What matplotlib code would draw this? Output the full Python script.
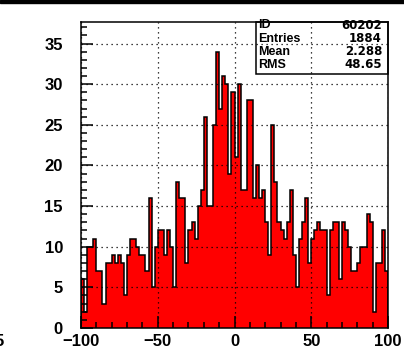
import matplotlib
matplotlib.use("Agg")
import matplotlib.pyplot as plt
import numpy as np
from matplotlib.patches import Rectangle
from matplotlib.ticker import MultipleLocator

W, H = 404, 358

# histogram 60202: 100 bins between -100 and 100
x_lo, x_hi, n_bins = -100, 100, 100
counts = [
    6, 2, 10, 10, 11, 7, 7, 3, 8, 8,
    9, 8, 9, 8, 4, 9, 11, 11, 10, 9,
    9, 7, 16, 5, 10, 12, 12, 9, 12, 10,
    5, 18, 16, 16, 8, 12, 13, 11, 15, 17,
    26, 15, 15, 25, 34, 27, 31, 30, 19, 29,
    21, 30, 17, 17, 28, 28, 16, 20, 16, 17,
    13, 9, 25, 18, 13, 12, 11, 13, 17, 9,
    5, 11, 13, 16, 8, 11, 12, 13, 12, 12,
    4, 12, 13, 13, 6, 13, 12, 10, 7, 7,
    8, 10, 10, 14, 13, 2, 8, 8, 12, 7,
]

stat_labels = ["ID", "Entries", "Mean", "RMS"]
stat_values = ["60202", "1884", "2.288", "48.65"]

plt.rcParams["font.family"] = ["Liberation Sans", "DejaVu Sans"]
plt.rcParams["font.weight"] = "bold"
plt.rcParams["lines.scale_dashes"] = False

edges = np.linspace(x_lo, x_hi, n_bins + 1)

fig = plt.figure(figsize=(W / 100, H / 100), dpi=100)
fig.patch.set_facecolor("white")
ax = fig.add_axes([81 / W, 1 - 328 / H, (388 - 81) / W, (328 - 22) / H])

ax.stairs(counts, edges, fill=True, color="#ff0000", lw=0, zorder=1)
ax.stairs(counts, edges, color="black", lw=1.1, zorder=2)

ax.set_xlim(x_lo, x_hi)
ax.set_ylim(0, 37.65)
ax.xaxis.set_major_locator(MultipleLocator(50))
ax.xaxis.set_minor_locator(MultipleLocator(10))
ax.yaxis.set_major_locator(MultipleLocator(5))
ax.yaxis.set_minor_locator(MultipleLocator(1))

ax.tick_params(which="both", direction="in", top=False, right=False,
               color="black", width=1.1, labelsize=12)
ax.tick_params(axis="x", which="major", length=8.6, pad=4.5)
ax.tick_params(axis="x", which="minor", length=4.3)
ax.tick_params(axis="y", which="major", length=8.6, pad=13)
ax.tick_params(axis="y", which="minor", length=4.3)

ax.grid(which="major", color="black", linestyle=(0, (0.9, 2.7)), lw=0.9)
ax.set_axisbelow(False)
for sp in ax.spines.values():
    sp.set_linewidth(1.1)
    sp.set_zorder(5)

# stats box (transparent, grid shows through)
box_l, box_r, box_t, box_b = 256, 388, 22, 74
fig.patches.append(Rectangle((box_l / W, 1 - box_b / H), (box_r - box_l) / W,
                             (box_b - box_t) / H, transform=fig.transFigure,
                             fill=False, ec="black", lw=1.1, zorder=6))
row_y = [25.5, 39, 51.8, 64.5]
for lab, val, yy in zip(stat_labels, stat_values, row_y):
    fig.text(258 / W, 1 - yy / H, lab, ha="left", va="center",
             fontsize=9, fontweight="bold")
    fig.text(382 / W, 1 - yy / H, val, ha="right", va="center",
             fontsize=8.5, fontweight="bold", family=["DejaVu Sans"])

# clipped label of a neighbouring pad and top border
fig.text(4 / W, 1 - 342 / H, "5", ha="right", va="center", fontsize=12,
         fontweight="bold")
fig.patches.append(Rectangle((0, 1 - 3 / H), 1, 3 / H, transform=fig.transFigure,
                             color="black", zorder=10))

fig.savefig("out.png", dpi=100)
